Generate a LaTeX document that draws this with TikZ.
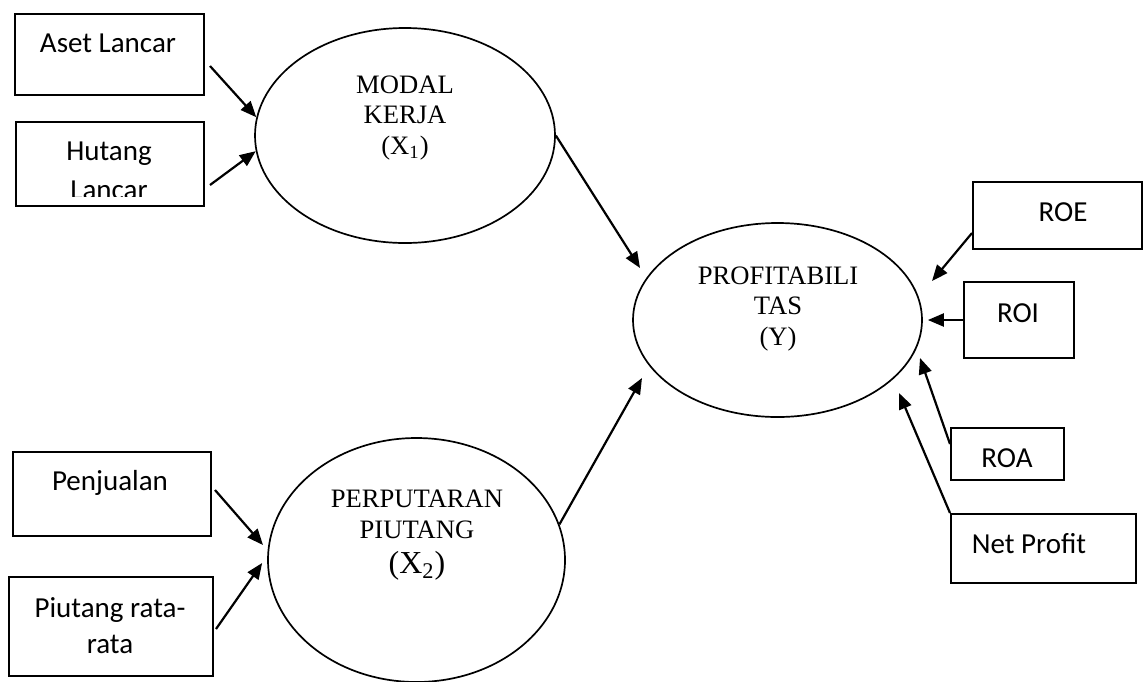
\documentclass[tikz,border=0pt]{standalone}
\usepackage{fontspec}
\setmainfont{Carlito}
\newfontfamily\hurufserif{Liberation Serif}
\usetikzlibrary{shapes.geometric,arrows.meta,calc}

\begin{document}
\begin{tikzpicture}[x=0.5pt, y=-0.5pt,
  kotak/.style = {draw, line width=1pt, anchor=north west, inner sep=0pt},
  elips/.style = {draw, ellipse, line width=0.85pt, inner sep=0pt},
  teks/.style = {anchor=base, align=center, inner sep=0pt, font=\fontsize{14.5}{18}\selectfont},
  judul/.style = {anchor=base, align=center, inner sep=0pt, font=\hurufserif\fontsize{13.3}{15.25}\selectfont},
  panah/.style = {line width=1.1pt, -{Triangle[length=8pt, width=6.5pt]}}]
\useasboundingbox (0,0) rectangle (1144,681);

% indikator kiri
\node[kotak, minimum width=94.5pt, minimum height=40.5pt] (aset) at (14,13) {};
\node[kotak, minimum width=94pt, minimum height=42pt] (hutang) at (15,121) {};
\node[kotak, minimum width=99pt, minimum height=42pt] (penj) at (12,451) {};
\node[kotak, minimum width=102pt, minimum height=49.5pt] (piut) at (8,576) {};
\node[teks] (aset-t) at (108,52) {Aset Lancar};
\begin{scope}
  \clip (hutang.north west) rectangle ($(hutang.south east)+(0,-11)$);
  \node[teks] (hutang-t) at (109,199) {Hutang\\[1.5pt]Lancar};
\end{scope}
\node[teks] (penj-t) at (110,490) {Penjualan};
\node[teks] (piut-t) at (110,653) {Piutang rata-\\rata};

% indikator kanan
\node[kotak, minimum width=84.5pt, minimum height=33.5pt] (roe) at (972,181) {};
\node[kotak, minimum width=55pt, minimum height=38pt] (roi) at (963,281) {};
\node[kotak, minimum width=56.5pt, minimum height=26pt] (roa) at (950,427) {};
\node[kotak, minimum width=92.5pt, minimum height=34.5pt] (np) at (950,513) {};
\node[teks] (roe-t) at (1063,221) {ROE};
\node[teks] (roi-t) at (1018,322) {ROI};
\node[teks] (roa-t) at (1007,467) {ROA};
\node[teks] (np-t) at (1029,553) {Net Profit};

% variabel
\node[elips, minimum width=150pt, minimum height=107.5pt] (modal) at (405,135.5) {};
\node[elips, minimum width=148.5pt, minimum height=122pt] (perp) at (416.5,560) {};
\node[elips, minimum width=144.5pt, minimum height=97pt] (prof) at (777.5,320) {};
\node[judul] (modal-t) at (405,154) {MODAL\\KERJA\\(X\textsubscript{1})};
\node[judul] (perp-t) at (417,573) {PERPUTARAN\\PIUTANG\\[2.25pt]{\fontsize{16}{18}\selectfont(X\textsubscript{2})}};
\node[judul] (prof-t) at (778,345) {PROFITABILI\\TAS\\(Y)};

% panah
\draw[panah] ($(aset.east)+(5,11.5)$) -- (modal.173);
\draw[panah] ($(hutang.east)+(5,21)$) -- (modal.186);
\draw[panah] ($(penj.east)+(3,-4)$) -- ($(perp.center)+(-153.5,-15)$);
\draw[panah] ($(piut.east)+(2,2.5)$) -- ($(perp.west)+(-5,3)$);
\draw[panah] (modal.east) -- ($(prof.center)+(-137.5,-52)$);
\draw[panah] (perp.14) -- ($(prof.center)+(-135.5,58)$);
\draw[panah] ($(roe.west)+(0,17.5)$) -- ($(prof.center)+(154.5,-39)$);
\draw[panah] (roi.west) -- ($(prof.east)+(5,0)$);
\draw[panah] ($(roa.west)+(0,-10)$) -- ($(prof.center)+(142.5,38)$);
\draw[panah] (np.north west) -- ($(prof.center)+(121.5,73)$);
\end{tikzpicture}
\end{document}
